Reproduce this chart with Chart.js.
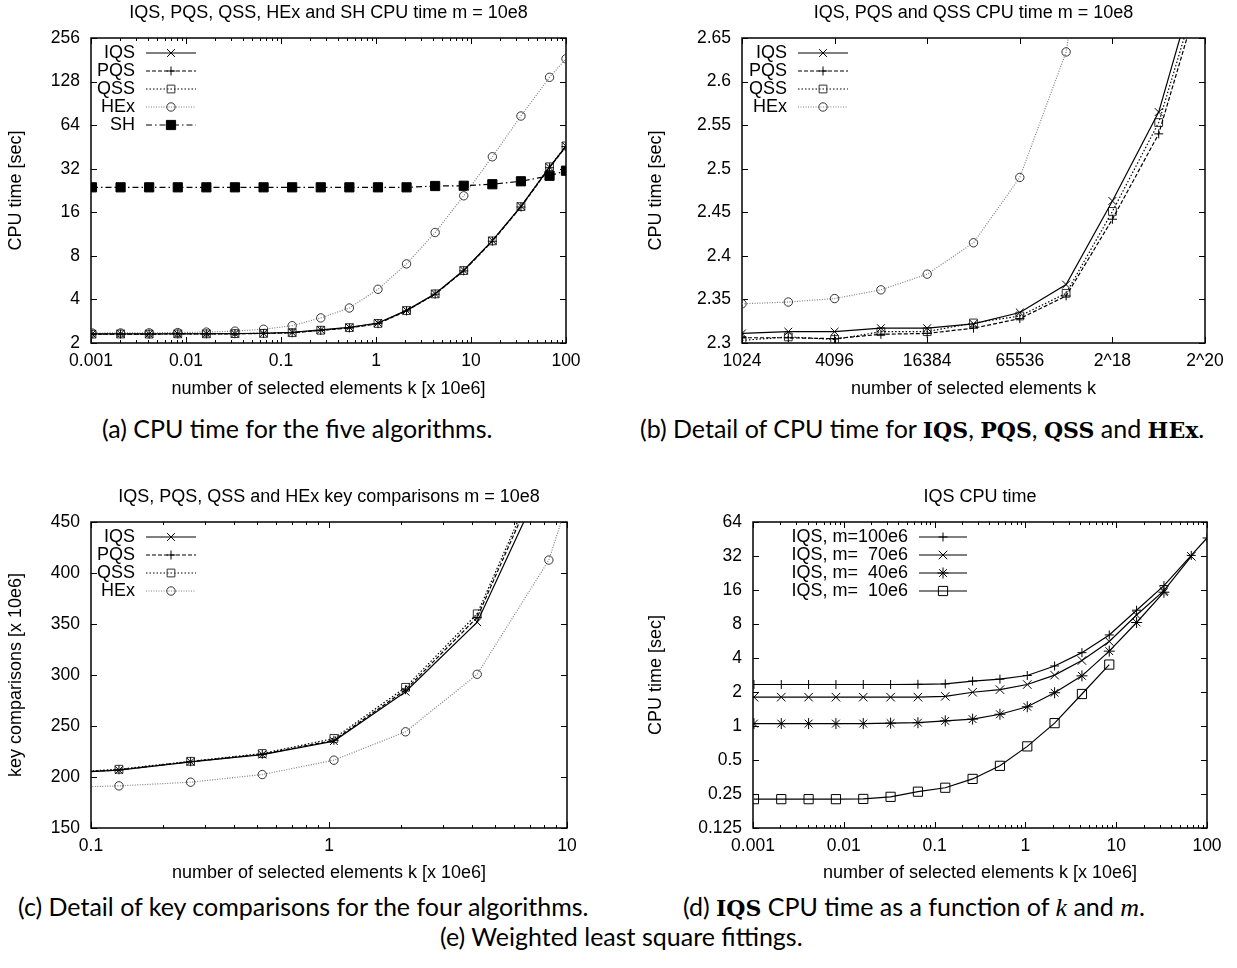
<!DOCTYPE html>
<html>
<head>
<meta charset="utf-8">
<script src="https://cdn.jsdelivr.net/npm/chart.js@4.4.0/dist/chart.umd.min.js"></script>
<style>
  body { margin: 0; background: #fff; }
  #page { position: relative; width: 1237px; height: 968px; overflow: hidden; background: #fff; }
  canvas { position: absolute; }
  .cap { position: absolute; white-space: nowrap; font-family: Lato, "Open Sans", sans-serif; font-size: 25px; line-height: 25px; color: #000; }
  .cap b { font-family: "DejaVu Serif", serif; font-weight: bold; font-size: 22px; }
  .cap i { font-family: "Liberation Serif", serif; font-size: 26px; }
</style>
</head>
<body>
<div id="page">
  <canvas id="ca" width="618" height="400" style="left:0;top:0"></canvas>
  <canvas id="cb" width="618" height="400" style="left:620px;top:0"></canvas>
  <canvas id="cc" width="618" height="400" style="left:0;top:484px"></canvas>
  <canvas id="cd" width="618" height="400" style="left:620px;top:484px"></canvas>
  <div class="cap" style="left:102px;top:416px">(a) CPU time for the five algorithms.</div>
  <div class="cap" style="left:640px;top:416px">(b) Detail of CPU time for <b>IQS</b>, <b>PQS</b>, <b>QSS</b> and <b>HEx</b>.</div>
  <div class="cap" style="left:18px;top:894px">(c) Detail of key comparisons for the four algorithms.</div>
  <div class="cap" style="left:683px;top:894px">(d) <b>IQS</b> CPU time as a function of <i>k</i> and <i>m</i>.</div>
  <div class="cap" style="left:440px;top:924px">(e) Weighted least square fittings.</div>
</div>
<script>
// k in units of 10e6 elements
const kMil = [0.001024, 0.002048, 0.004096, 0.008192, 0.016384, 0.032768, 0.065536, 0.131072,
  0.262144, 0.524288, 1.048576, 2.097152, 4.194304, 8.388608, 16.777216, 33.554432, 67.108864, 100];
// same k, counted in elements (detail plot)
const kElems = [1024, 2048, 4096, 8192, 16384, 32768, 65536, 131072, 262144, 524288, 1048576];

// CPU time [sec], m = 10e8
const iqsTime = [2.311, 2.313, 2.313, 2.317, 2.317, 2.322, 2.335, 2.367, 2.463, 2.565, 2.75, 3.36, 4.38, 6.36, 10.2, 17.6, 32.8, 45.8];
const pqsTime = [2.306, 2.306, 2.305, 2.310, 2.311, 2.317, 2.328, 2.354, 2.442, 2.540, 2.72, 3.33, 4.35, 6.30, 10.1, 17.4, 32.5, 45.5];
const qssTime = [2.303, 2.307, 2.304, 2.313, 2.313, 2.323, 2.331, 2.357, 2.451, 2.553, 2.73, 3.35, 4.37, 6.33, 10.15, 17.5, 33.0, 46.0];
const hexTime = [2.345, 2.347, 2.351, 2.361, 2.379, 2.415, 2.490, 2.634, 2.98, 3.49, 4.7, 7.04, 11.6, 20.8, 38.7, 74, 137, 184];
const shTime  = [23.8, 23.8, 23.8, 23.8, 23.8, 23.8, 23.8, 23.8, 23.8, 23.8, 23.8, 23.8, 24.3, 24.4, 25.0, 26.2, 28.6, 31.0];

// key comparisons [x 10e6]
const kCmp   = [0.065536, 0.131072, 0.262144, 0.524288, 1.048576, 2.097152, 4.194304, 8.388608, 16.777216];
const iqsCmp = [203, 206.7, 214.9, 222.0, 235.2, 283.6, 351.8, 503];
const pqsCmp = [203, 207.0, 215.0, 222.3, 236.0, 285.5, 356.5, 515];
const qssCmp = [203.5, 207.6, 215.4, 223.0, 237.8, 287.9, 360.0, 520];
const hexCmp = [189.5, 191.3, 194.9, 202.4, 216.5, 244.3, 300.7, 412.7, 630];

// IQS CPU time [sec] for several m
const iqsM100 = [2.33, 2.33, 2.33, 2.33, 2.33, 2.33, 2.34, 2.36, 2.50, 2.60, 2.80, 3.40, 4.46, 6.4, 10.6, 17.5, 32.4, 46.2];
const iqsM70  = [1.80, 1.80, 1.80, 1.80, 1.80, 1.80, 1.80, 1.83, 1.99, 2.10, 2.33, 2.82, 3.80, 5.6, 9.6, 15.8, 31.8];
const iqsM40  = [1.05, 1.05, 1.05, 1.05, 1.05, 1.06, 1.07, 1.11, 1.15, 1.27, 1.48, 1.97, 2.78, 4.6, 8.25, 15.3];
const iqsM10  = [0.225, 0.225, 0.225, 0.225, 0.226, 0.236, 0.262, 0.284, 0.34, 0.444, 0.66, 1.06, 1.92, 3.5];

// tick values and labels
const decTicks  = [0.001, 0.01, 0.1, 1, 10, 100];
const decLabels = ['0.001', '0.01', '0.1', '1', '10', '100'];
const secTicksA = [2, 4, 8, 16, 32, 64, 128, 256];
const kTicks    = [1024, 4096, 16384, 65536, 262144, 1048576];
const kLabels   = ['1024', '4096', '16384', '65536', '2^18', '2^20'];
const secTicksB = [2.3, 2.35, 2.4, 2.45, 2.5, 2.55, 2.6, 2.65];
const cmpXTicks = [0.1, 1, 10];
const cmpTicks  = [150, 200, 250, 300, 350, 400, 450];
const secTicksD = [0.125, 0.25, 0.5, 1, 2, 4, 8, 16, 32, 64];

const SANS = '"Liberation Sans", Arial, sans-serif';
Chart.defaults.font.family = SANS;
Chart.defaults.color = '#000';

function pts(xs, ys) {
  return ys.map((y, i) => ({ x: xs[i], y: y }));
}

function series(label, xs, ys, st) {
  return {
    label: label,
    data: pts(xs, ys),
    borderColor: st.color,
    borderWidth: 1.2,
    borderDash: st.dash,
    tension: 0,
    fill: false,
    pointStyle: st.point,
    pointRadius: st.r,
    pointBorderWidth: 1,
    pointBorderColor: st.pcolor || st.color,
    pointBackgroundColor: st.fillc || 'rgba(0,0,0,0)'
  };
}

const ST = {
  IQS: { color: '#000', dash: [], point: 'crossRot', r: 5.5 },
  PQS: { color: '#000', dash: [4, 2], point: 'cross', r: 4.5 },
  QSS: { color: '#000', dash: [1.5, 2], point: 'rect', r: 5.5, pcolor: '#333' },
  HEx: { color: '#808080', dash: [1, 1.5], point: 'circle', r: 4.2, pcolor: '#333' },
  SH:  { color: '#000', dash: [6, 3, 1.5, 3], point: 'rect', r: 6.5, fillc: '#000' },
  m100: { color: '#000', dash: [], point: 'cross', r: 4.5 },
  m70:  { color: '#000', dash: [], point: 'crossRot', r: 6 },
  m40:  { color: '#000', dash: [], point: 'star', r: 5.5 },
  m10:  { color: '#000', dash: [], point: 'rect', r: 6.5 }
};

function logMinor(min, max) {
  const out = [];
  for (let e = Math.floor(Math.log10(min)); e <= Math.ceil(Math.log10(max)); e++) {
    for (let m = 2; m <= 9; m++) {
      const v = m * Math.pow(10, e);
      if (v > min && v < max) out.push(v);
    }
  }
  return out;
}

// border, inward ticks and title, gnuplot style
const framePlugin = {
  id: 'gframe',
  beforeDatasetsDraw(chart, args, o) {
    const { ctx, chartArea: a, scales: { x, y } } = chart;
    ctx.save();
    ctx.strokeStyle = '#000';
    ctx.lineWidth = 1;
    ctx.beginPath();
    const xt = (list, len) => list.forEach(v => {
      const p = Math.round(x.getPixelForValue(v)) + 0.5;
      ctx.moveTo(p, a.bottom); ctx.lineTo(p, a.bottom - len);
      ctx.moveTo(p, a.top); ctx.lineTo(p, a.top + len);
    });
    const yt = (list, len) => list.forEach(v => {
      const p = Math.round(y.getPixelForValue(v)) + 0.5;
      ctx.moveTo(a.left, p); ctx.lineTo(a.left + len, p);
      ctx.moveTo(a.right, p); ctx.lineTo(a.right - len, p);
    });
    xt(o.xMajor, 6); xt(o.xMinor || [], 3);
    yt(o.yMajor, 6);
    ctx.stroke();
    ctx.lineWidth = 1.5;
    ctx.strokeRect(a.left, a.top, a.right - a.left, a.bottom - a.top);
    ctx.font = '18px ' + SANS;
    ctx.fillStyle = '#000';
    ctx.textAlign = 'center';
    ctx.textBaseline = 'middle';
    ctx.fillText(o.title, (a.left + a.right) / 2, 13);
    ctx.restore();
  }
};

// key: text, then a line sample with its marker
const keyPlugin = {
  id: 'gkey',
  afterDraw(chart, args, o) {
    const { ctx, chartArea: a } = chart;
    ctx.save();
    ctx.font = '18px ' + SANS;
    ctx.textAlign = 'right';
    ctx.textBaseline = 'middle';
    chart.data.datasets.forEach((ds, i) => {
      const y = a.top + 15 + i * 18;
      const tx = a.left + o.tx;
      ctx.fillStyle = '#000';
      ctx.fillText(ds.label, tx, y);
      ctx.strokeStyle = ds.borderColor;
      ctx.lineWidth = ds.borderWidth;
      ctx.setLineDash(ds.borderDash);
      ctx.beginPath();
      ctx.moveTo(tx + 11, y); ctx.lineTo(tx + 11 + o.len, y);
      ctx.stroke();
      ctx.setLineDash([]);
      ctx.strokeStyle = ds.pointBorderColor;
      ctx.fillStyle = ds.pointBackgroundColor;
      ctx.lineWidth = ds.pointBorderWidth;
      Chart.helpers.drawPoint(ctx, { pointStyle: ds.pointStyle, radius: ds.pointRadius,
        borderWidth: ds.pointBorderWidth, rotation: 0 }, tx + 11 + o.len / 2, y);
    });
    ctx.restore();
  }
};

function makeChart(id, c) {
  return new Chart(document.getElementById(id), {
    type: 'line',
    data: { datasets: c.sets },
    options: {
      responsive: false,
      animation: false,
      events: [],
      layout: { padding: { top: 38, right: c.padR, left: 0, bottom: 0 } },
      plugins: {
        legend: { display: false },
        tooltip: { enabled: false },
        title: { display: false },
        gframe: { title: c.title, xMajor: c.xTicks, xMinor: c.xMinor, yMajor: c.yTicks },
        gkey: { tx: c.keyX, len: c.keyLen || 50 }
      },
      scales: {
        x: {
          type: 'logarithmic',
          min: c.xMin, max: c.xMax,
          afterFit: s => { s.height = c.xH; },
          afterBuildTicks: s => { s.ticks = c.xTicks.map(v => ({ value: v })); },
          ticks: { callback: (v, i) => c.xLabels[i], font: { size: 17.5 }, padding: 8, maxRotation: 0, autoSkip: false },
          grid: { display: false, drawTicks: false },
          border: { display: false },
          title: { display: true, text: c.xTitle, font: { size: 18 }, padding: { top: 0, bottom: 0 } }
        },
        y: {
          type: c.yType,
          min: c.yMin, max: c.yMax,
          afterFit: s => { s.width = c.left; },
          afterBuildTicks: s => { s.ticks = c.yTicks.map(v => ({ value: v })); },
          ticks: { callback: (v, i) => c.yLabels[i], font: { size: 17.5 }, padding: 11, autoSkip: false },
          grid: { display: false, drawTicks: false },
          border: { display: false },
          title: { display: true, text: c.yTitle, font: { size: 18 }, padding: { top: c.yTitlePad, bottom: 0 } }
        }
      }
    },
    plugins: [framePlugin, keyPlugin]
  });
}

makeChart('ca', {
  title: 'IQS, PQS, QSS, HEx and SH CPU time m = 10e8',
  sets: [
    series('IQS', kMil, iqsTime, ST.IQS),
    series('PQS', kMil, pqsTime, ST.PQS),
    series('QSS', kMil, qssTime, ST.QSS),
    series('HEx', kMil, hexTime, ST.HEx),
    series('SH', kMil, shTime, ST.SH)
  ],
  left: 91, padR: 52, xH: 57, keyX: 44,
  xMin: 0.001, xMax: 100, xTicks: decTicks, xLabels: decLabels, xMinor: logMinor(0.001, 100),
  xTitle: 'number of selected elements k [x 10e6]',
  yType: 'logarithmic', yMin: 2, yMax: 256, yTicks: secTicksA, yLabels: secTicksA.map(String),
  yTitle: 'CPU time [sec]', yTitlePad: 5
});

makeChart('cb', {
  title: 'IQS, PQS and QSS CPU time m = 10e8',
  sets: [
    series('IQS', kElems, iqsTime.slice(0, 11), ST.IQS),
    series('PQS', kElems, pqsTime.slice(0, 11), ST.PQS),
    series('QSS', kElems, qssTime.slice(0, 11), ST.QSS),
    series('HEx', kElems, hexTime.slice(0, 11), ST.HEx)
  ],
  left: 122, padR: 33, xH: 57, keyX: 45,
  xMin: 1024, xMax: 1048576, xTicks: kTicks, xLabels: kLabels, xMinor: [],
  xTitle: 'number of selected elements k',
  yType: 'linear', yMin: 2.3, yMax: 2.65, yTicks: secTicksB, yLabels: secTicksB.map(String),
  yTitle: 'CPU time [sec]', yTitlePad: 25
});

makeChart('cc', {
  title: 'IQS, PQS, QSS and HEx key comparisons m = 10e8',
  sets: [
    series('IQS', kCmp, iqsCmp, ST.IQS),
    series('PQS', kCmp, pqsCmp, ST.PQS),
    series('QSS', kCmp, qssCmp, ST.QSS),
    series('HEx', kCmp, hexCmp, ST.HEx)
  ],
  left: 91, padR: 51, xH: 56, keyX: 44,
  xMin: 0.1, xMax: 10, xTicks: cmpXTicks, xLabels: cmpXTicks.map(String), xMinor: logMinor(0.1, 10),
  xTitle: 'number of selected elements k [x 10e6]',
  yType: 'linear', yMin: 150, yMax: 450, yTicks: cmpTicks, yLabels: cmpTicks.map(String),
  yTitle: 'key comparisons [x 10e6]', yTitlePad: 5
});

makeChart('cd', {
  title: 'IQS CPU time',
  sets: [
    series('IQS, m=100e6', kMil, iqsM100, ST.m100),
    series('IQS, m=  70e6', kMil, iqsM70, ST.m70),
    series('IQS, m=  40e6', kMil, iqsM40, ST.m40),
    series('IQS, m=  10e6', kMil, iqsM10, ST.m10)
  ],
  left: 133, padR: 31, xH: 56, keyX: 155, keyLen: 48,
  xMin: 0.001, xMax: 100, xTicks: decTicks, xLabels: decLabels, xMinor: logMinor(0.001, 100),
  xTitle: 'number of selected elements k [x 10e6]',
  yType: 'logarithmic', yMin: 0.125, yMax: 64, yTicks: secTicksD, yLabels: secTicksD.map(String),
  yTitle: 'CPU time [sec]', yTitlePad: 25
});
</script>
</body>
</html>
